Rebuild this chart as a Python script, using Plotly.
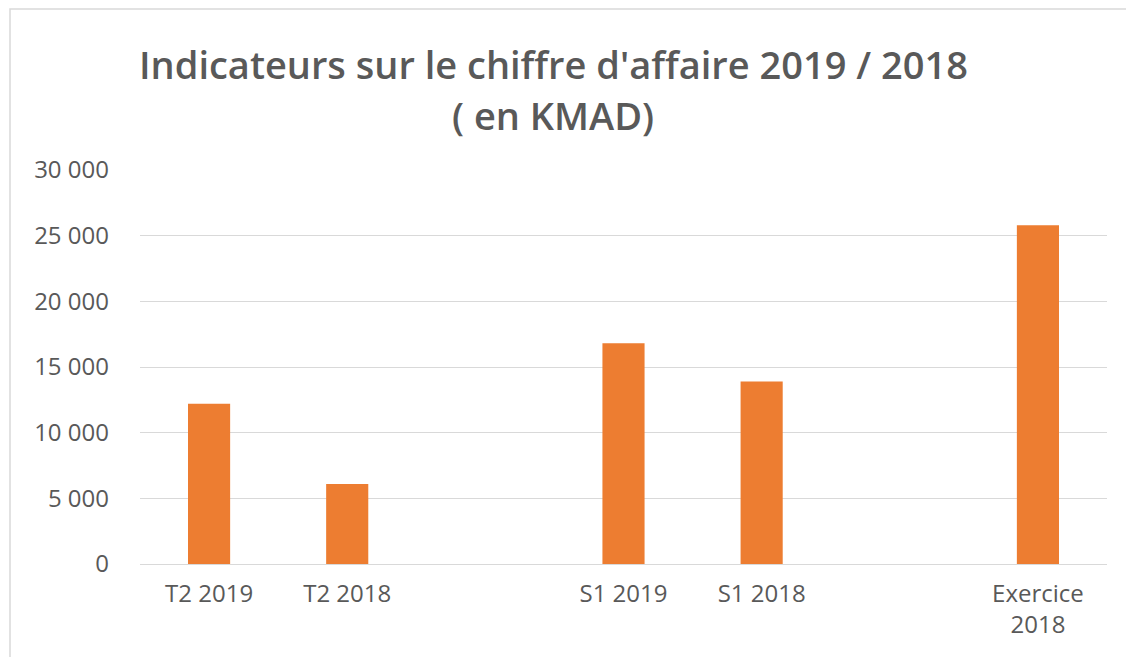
import plotly.graph_objects as go

categories = ["T2 2019", "T2 2018", " ", "S1 2019", "S1 2018", "  ", "Exercice<br>2018"]
values = [12200, 6100, None, 16800, 13900, None, 25800]
y_tickvals = [0, 5000, 10000, 15000, 20000, 25000, 30000]
y_ticktext = ["0", "5 000", "10 000", "15 000", "20 000", "25 000", "30 000"]
title_lines = ["Indicateurs sur le chiffre d'affaire 2019 / 2018", "( en KMAD)"]

W, H = 1126, 657
L, R, T, B = 140, 19, 170, 93
pw, ph = W - L - R, H - T - B

def px_x(px):
    return (px - L) / pw

def px_y(py):
    return (H - B - py) / ph

gray = "#595959"
font_fam = "'Open Sans', Lato, sans-serif"

fig = go.Figure()
fig.add_trace(go.Bar(
    x=categories, y=values,
    marker=dict(color="#ED7D31", line=dict(width=0)),
    width=0.305,
))

fig.update_layout(
    width=W, height=H,
    margin=dict(l=L, r=R, t=T, b=B, pad=0),
    paper_bgcolor="white", plot_bgcolor="white",
    showlegend=False,
    font=dict(family=font_fam, color=gray, size=24),
    xaxis=dict(
        type="category", categoryorder="array", categoryarray=categories,
        showgrid=False, showline=False, zeroline=False,
        ticks="", ticklabelstandoff=13,
        tickfont=dict(size=24, color=gray),
    ),
    yaxis=dict(
        range=[0, 30000], tickvals=y_tickvals, ticktext=y_ticktext,
        showgrid=True, gridcolor="#D9D9D9", gridwidth=1,
        zeroline=True, zerolinecolor="#D9D9D9", zerolinewidth=1,
        showline=False, ticks="", ticklabelstandoff=30,
        tickfont=dict(size=24, color=gray),
    ),
    shapes=[
        dict(type="rect", xref="paper", yref="paper",
             x0=px_x(10), x1=px_x(1140), y0=px_y(9), y1=px_y(680),
             line=dict(color="#D9D9D9", width=1.5), fillcolor="rgba(0,0,0,0)",
             layer="below"),
    ],
    annotations=[
        dict(text=title_lines[0], xref="paper", yref="paper",
             x=px_x(553), y=px_y(64), xanchor="center", yanchor="middle",
             showarrow=False,
             font=dict(family=font_fam, size=38, color=gray, weight=600)),
        dict(text=title_lines[1], xref="paper", yref="paper",
             x=px_x(553), y=px_y(115), xanchor="center", yanchor="middle",
             showarrow=False,
             font=dict(family=font_fam, size=38, color=gray, weight=600)),
    ],
)

fig.write_html("out.html")
